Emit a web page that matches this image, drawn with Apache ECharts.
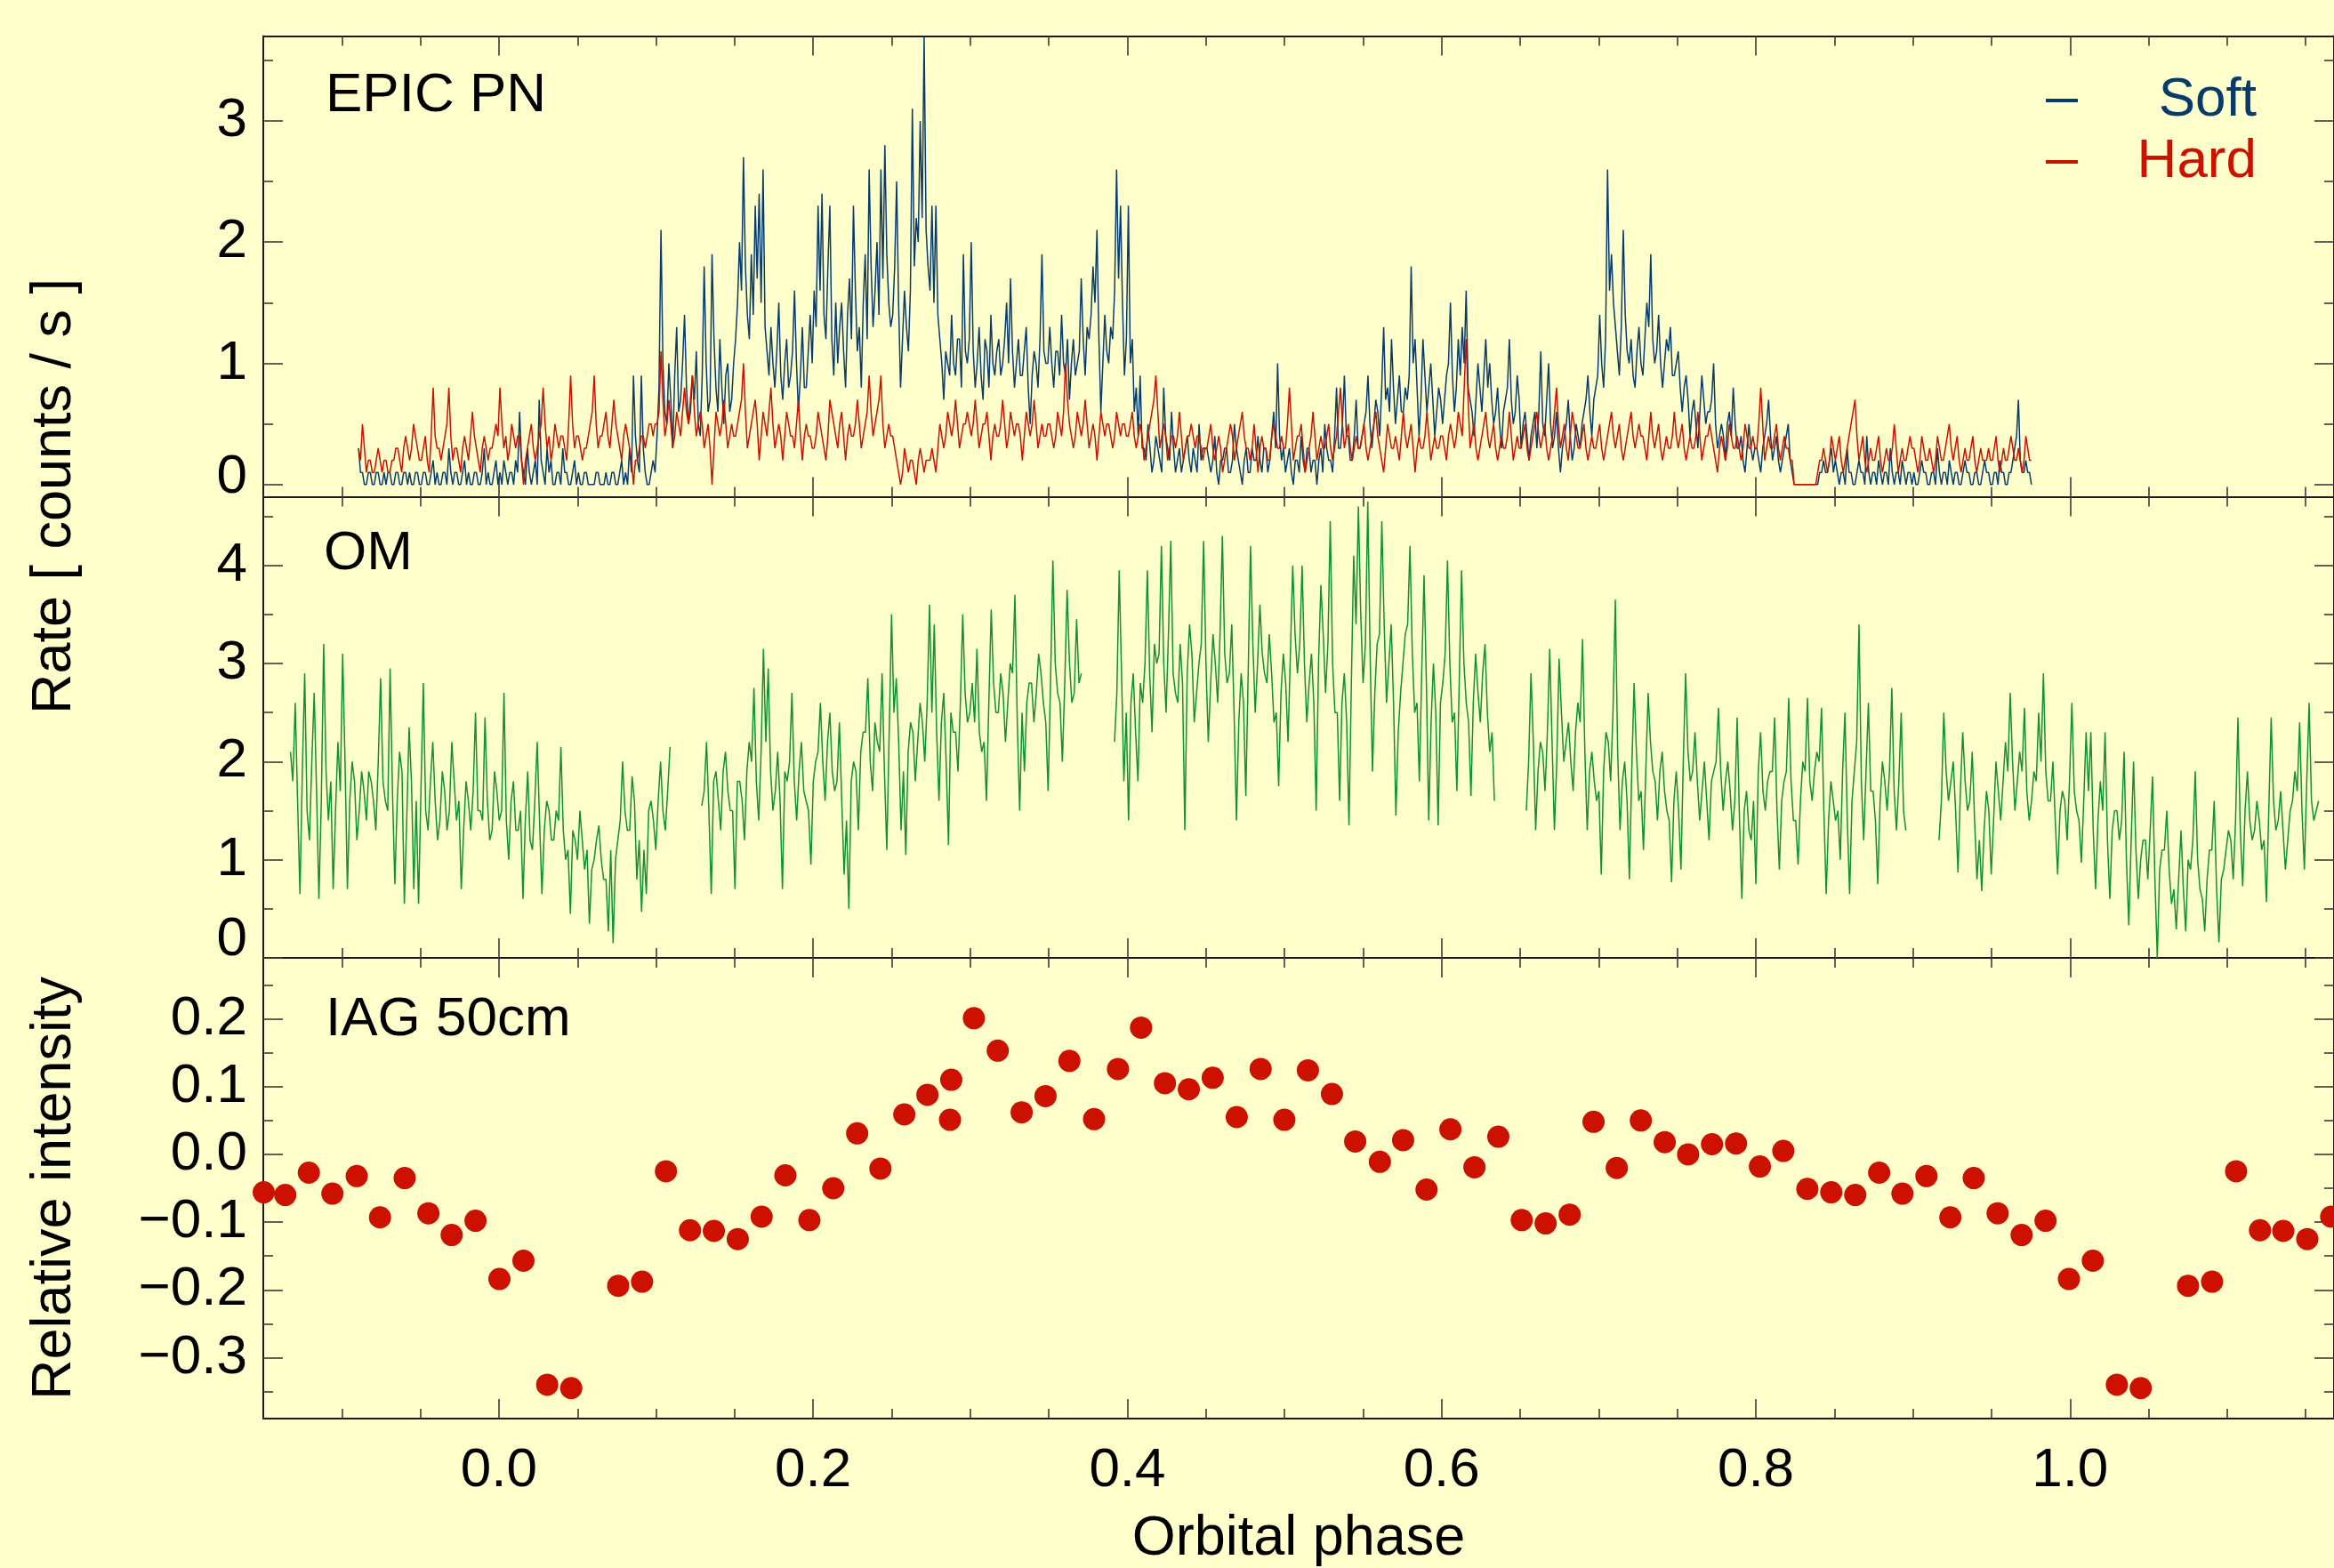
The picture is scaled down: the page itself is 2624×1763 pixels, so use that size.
<!DOCTYPE html>
<html><head><meta charset="utf-8">
<script src="https://cdn.jsdelivr.net/npm/echarts@6/dist/echarts.min.js"></script>
<style>html,body{margin:0;padding:0;background:#ffffcc;}#c{width:2624px;height:1763px;}</style>
</head><body><div id="c"></div>
<script>
// ---------- EPIC PN (phase rows, each row spans pnEdges[r]..pnEdges[r+1]) ----------
// each row: main readings; "core" rows: the in-between readings of the same bins
const pnEdges = [-0.09,-0.05,0,0.05,0.1,0.15,0.2,0.25,0.3,0.35,0.4,0.45,0.5,0.55,0.6,0.65,0.7,0.75,0.8,0.85,0.9,0.95,0.976];
const softRows = [
[0.3,0.1,0,0.1,0,0.1,0,0,0.1,0,0.1,0,0.1,0.1,0,0.1],
[0,0.1,0,0.2,0.1,0,0.1,0.3,0,0.1,0,0.2,0.1,0,0.1,0,0.3,0.1,0,0.2],
[0.1,0.2,0,0.1,0.2,0.6,0.1,0.3,0,0.2,0.7,0.1,0.3,0.2,0,0.1,0.3,0.1,0,0.2],
[0.1,0,0.1,0,0,0.1,0,0.1,0,0.1,0,0.2,0.1,0.3,0.9,0.2,0.9,0.1,0,0.2],
[0.4,2.1,0.6,1.0,0.3,1.3,0.7,1.4,0.5,0.9,1.1,0.4,1.8,0.6,1.9,0.8,1.2,0.5,1.0,0.7],
[1.2,2.0,2.7,1.4,1.9,2.3,2.4,2.6,1.1,1.3,0.8,1.5,0.7,1.2,0.9,1.6,0.6,1.3,0.8,1.4],
[1.6,2.3,2.4,1.2,2.3,0.9,1.0,1.5,0.8,1.7,2.3,1.1,0.8,1.9,2.6,1.3,2.0,2.6,2.8,1.5],
[1.4,2.5,0.8,1.6,1.1,3.1,2.2,3.0,3.7,1.8,2.3,2.3,1.2,0.7,1.0,1.4,0.9,1.2,1.9,1.0],
[2.0,0.8,1.3,0.7,1.1,1.4,0.9,1.2,1.0,1.5,1.7,0.8,1.2,0.9,1.3,0.5,1.1,0.8,1.9,1.0],
[1.3,0.8,1.1,1.4,0.9,0.7,1.2,1.0,1.7,0.9,1.2,1.8,2.1,0.6,1.4,1.0,1.2,2.6,2.3,0.9],
[2.3,1.2,0.8,0.9,0.3,0.5,0.1,0.4,0.2,0.8,0.3,0.6,0.1,0.3,0.2,0.4,0.1,0.2,0.5,0.3],
[0.3,0.1,0.4,0,0.2,0.3,0.1,0.5,0.2,0,0.3,0.1,0.2,0.4,0.1,0.3,0.2,0.6,1.0,0.2],
[0.1,0.3,0,0.2,0.4,0.1,0.3,0.2,0,0.3,0.5,0.2,0.1,0.8,0.3,0.9,0.4,0.2,0.7,0.3],
[0.5,0.9,0.3,0.7,0.4,1.3,0.8,1.2,0.5,0.9,0.6,0.7,1.8,1.2,0.4,1.2,0.6,1.0,0.4,0.8],
[0.5,0.9,1.5,0.6,1.2,1.3,1.6,0.7,0.4,1.0,0.6,1.2,1.0,0.5,0.8,0.3,0.7,1.2,0.5,0.9],
[0.3,0.6,0.2,0.5,0.3,1.1,0.4,1.0,0.3,0.6,0.1,0.4,0.7,0.2,0.5,0.3,0.6,0.9,0.4,0.8],
[1.4,0.8,2.6,1.9,1.3,0.9,2.1,1.1,1.2,0.8,1.3,0.9,1.5,1.9,1.0,1.4,0.8,1.2,1.3,0.9],
[1.1,0.6,0.9,0.4,0.7,0.3,0.9,0.5,0.6,1.0,0.3,0.5,0.2,0.6,0.8,0.3,0.4,0.1,0.5,0.2],
[0.3,0.1,0.4,0.7,0.2,0.4,0.1,0.3,0.5,0.1,0,0,0,0,0,0,0.1,0.2,0.1,0.3],
[0.2,0,0.1,0.3,0.1,0,0.2,0.1,0.4,0,0.1,0.2,0,0.1,0.3,0,0.1,0.2,0,0.1],
[0.1,0,0.2,0.1,0,0.1,0.3,0,0.1,0.2,0,0.1,0,0.2,0.1,0,0.1,0,0.2,0.1],
[0,0.1,0.2,0.1,0,0.1,0.3,0.7,0.1,0.2,0.1]
];
const softCoreRows = [
[0.1,0,0.1,0,0.1,0,0.1,0.1,0,0.1,0,0.1,0,0,0.1,0],
[0.1,0,0.1,0,0,0.1,0,0.1,0.1,0,0.1,0,0,0.1,0,0.1,0,0,0.1,0],
[0,0.1,0.1,0,0.1,0.2,0,0.1,0.1,0,0.2,0,0.1,0,0.1,0,0.1,0,0.1,0],
[0,0.1,0,0,0.1,0,0,0,0.1,0,0.1,0,0,0.1,0.4,0.1,0.3,0,0.1,0.1],
[0.8,1.0,0.5,0.7,0.9,0.6,1.0,0.8,0.6,0.7,0.5,0.9,1.0,0.7,1.2,0.6,0.8,0.9,0.6,1.0],
[1.5,1.6,1.8,1.2,1.4,1.7,1.5,1.3,0.9,1.0,1.1,0.9,1.0,0.8,1.1,1.0,0.9,0.8,1.1,1.0],
[1.3,1.6,1.4,1.8,1.2,1.5,1.3,1.1,1.4,1.2,1.6,1.3,1.5,1.2,1.8,1.6,1.4,1.7,1.9,1.3],
[1.8,1.5,1.2,1.3,1.6,1.8,2.0,2.2,2.1,1.6,1.5,1.4,1.0,1.1,0.9,1.0,1.2,0.8,1.1,1.2],
[1.1,1.0,0.9,1.2,0.8,1.0,1.1,0.9,1.2,1.0,1.1,1.0,0.9,1.1,0.8,0.9,1.0,1.2,1.1,1.0],
[1.0,1.1,0.9,1.0,1.2,1.0,0.9,1.1,1.2,1.3,1.4,1.5,1.2,1.0,1.1,1.3,1.6,1.7,1.5,1.2],
[1.0,0.6,0.4,0.3,0.2,0.3,0.2,0.3,0.1,0.4,0.2,0.3,0.2,0.1,0.3,0.2,0.3,0.1,0.2,0.3],
[0.2,0.2,0.1,0.2,0.3,0.1,0.2,0.3,0.1,0.2,0.1,0.3,0.2,0.2,0.3,0.1,0.4,0.3,0.4,0.3],
[0.2,0.1,0.2,0.1,0.2,0.3,0.1,0.2,0.2,0.1,0.3,0.2,0.4,0.3,0.5,0.4,0.2,0.4,0.3,0.4],
[0.6,0.5,0.5,0.6,0.8,0.7,0.6,0.8,0.7,0.6,0.8,0.9,1.0,0.8,0.7,0.9,0.8,0.7,0.6,0.7],
[0.7,1.0,0.9,0.8,0.9,1.0,0.8,0.6,0.7,0.8,0.9,0.8,0.7,0.6,0.5,0.6,0.8,0.7,0.6,0.7],
[0.5,0.4,0.4,0.6,0.6,0.5,0.7,0.5,0.4,0.3,0.3,0.5,0.4,0.3,0.4,0.5,0.7,0.6,0.7,0.9],
[1.0,1.2,1.6,1.5,1.1,1.3,1.4,1.0,0.9,1.1,1.0,1.2,1.3,1.2,1.1,1.0,1.0,1.1,0.9,1.0],
[0.8,0.8,0.7,0.6,0.5,0.6,0.7,0.6,0.7,0.5,0.4,0.4,0.5,0.4,0.5,0.3,0.2,0.3,0.3,0.3],
[0.2,0.3,0.5,0.4,0.3,0.2,0.2,0.4,0.2,0,0,0,0,0,0,0,0.1,0.1,0.2,0.1],
[0.1,0.1,0,0.1,0,0.1,0.1,0,0.1,0.1,0,0.1,0.1,0,0.1,0.1,0,0.1,0.1,0],
[0,0.1,0.1,0,0.1,0,0.1,0.1,0,0.1,0.1,0,0.1,0.1,0,0.1,0,0.1,0.1,0],
[0.1,0,0.1,0,0.1,0.2,0.4,0.2,0.1,0.1,0]
];
const hardRows = [
[0.3,0.5,0.1,0.2,0.1,0.3,0.1,0.2,0.1,0.2,0.3,0.1,0.4,0.2,0.5,0.3],
[0.2,0.4,0.1,0.8,0.3,0.2,0.4,0.8,0.2,0.3,0.1,0.4,0.2,0.6,0.3,0.1,0.4,0.2,0.3,0.5],
[0.8,0.3,0.2,0.5,0.3,0.4,0,0.3,0.5,0.2,0.4,0.8,0.3,0.2,0.5,0.3,0.4,0.2,0.9,0.3],
[0.4,0.2,0.3,0.5,0.9,0.3,0.4,0.6,0.3,0.7,0.4,0.2,0.5,0.3,0,0.2,0.4,0.3,0.5,0.4],
[0.5,1.1,0.4,0.7,0.3,0.6,0.4,0.8,0.5,0.9,0.4,0.6,0.3,0.5,0,0.6,0.4,0.7,0.3,0.5],
[0.4,0.6,1.0,0.3,0.5,0.7,0.2,0.6,0.4,0.8,0.3,0.5,0.2,0.6,0.4,0.3,0.7,0.2,0.5,0.4],
[0.3,0.6,0.4,0.2,0.7,0.5,0.3,0.6,0.2,0.5,0.4,0.7,0.3,0.5,0.9,0.4,0.6,0.9,0.3,0.5],
[0.4,0.2,0,0.3,0.1,0.2,0,0.3,0.1,0.2,0.3,0.1,0.5,0.3,0.6,0.4,0.7,0.3,0.5,0.6],
[0.4,0.7,0.3,0.5,0.6,0.2,0.5,0.4,0.7,0.3,0.6,0.4,0.5,0.2,0.6,0.4,0.7,0.3,0.5,0.4],
[0.5,0.3,0.6,0.4,1.0,0.5,0.3,0.6,0.4,0.7,0.3,0.5,0.2,0.6,0.4,0.5,0.3,0.6,0.4,0.5],
[0.4,0.6,0.3,0.5,0.2,0.4,0.6,0.9,0.3,0.5,0.2,0.4,0.3,0.6,0.2,0.4,0.5,0.3,0.4,0.2],
[0.3,0.5,0.2,0.4,0.1,0.3,0.5,0.2,0.4,0.6,0.3,0.2,0.5,0.1,0.4,0.3,0.2,0.5,0.3,0.4],
[0.3,0.8,0.2,0.4,0.5,0.1,0.3,0.6,0.2,0.4,0.3,0.5,0.2,0.4,0.8,0.3,0.5,0.2,0.4,0.3],
[0.5,0.2,0.4,0.6,0.3,0.1,0.5,0.3,0.4,0.2,0.6,0.3,0.5,0.1,0.4,0.3,0.6,0.2,0.4,0.3],
[0.4,0.2,0.5,0.3,0.6,0.4,1.2,0.3,0.5,0.2,0.4,0.6,0.3,0.5,0.2,0.4,0.3,0.6,0.2,0.4],
[0.3,0.5,0.2,0.4,0.6,0.3,0.5,0.2,0.4,0.8,0.3,0.5,0.2,0.6,0.4,0.3,0.5,0.2,0.4,0.3],
[0.5,0.2,0.4,0.6,0.3,0.5,0.2,0.4,0.6,0.3,0.5,0.4,0.2,0.6,0.3,0.5,0.2,0.4,0.3,0.6],
[0.3,0.5,0.2,0.4,0.3,0.6,0.2,0.4,0.5,0.3,0.1,0.4,0.2,0.5,0.3,0.4,0.2,0.5,0.3,0.4],
[0.3,0.8,0.2,0.4,0.3,0.5,0.2,0.4,0.3,0.2,0,0,0,0,0,0,0.2,0.3,0.1,0.4],
[0.2,0.4,0.1,0.3,0.5,0.7,0.2,0.4,0.1,0.3,0.2,0.4,0.1,0.3,0.2,0.5,0.1,0.3,0.2,0.4],
[0.3,0.1,0.4,0.2,0.3,0.1,0.4,0.2,0.3,0.5,0.2,0.4,0.1,0.3,0.2,0.4,0.1,0.3,0.2,0.3],
[0.2,0.4,0.1,0.3,0.2,0.4,0.2,0.3,0.1,0.4,0.2]
];
const hardCoreRows = [
[0.2,0.3,0.2,0.1,0.2,0.2,0.2,0.1,0.2,0.3,0.2,0.3,0.3,0.3,0.4,0.2],
[0.3,0.2,0.4,0.4,0.3,0.3,0.5,0.4,0.3,0.2,0.3,0.3,0.4,0.4,0.2,0.3,0.3,0.3,0.4,0.4],
[0.5,0.4,0.3,0.4,0.4,0.2,0.2,0.4,0.3,0.3,0.5,0.5,0.4,0.3,0.4,0.4,0.3,0.5,0.5,0.4],
[0.3,0.3,0.4,0.6,0.5,0.4,0.5,0.4,0.5,0.5,0.3,0.4,0.4,0.2,0.2,0.3,0.4,0.4,0.5,0.5],
[0.6,0.7,0.5,0.5,0.4,0.5,0.6,0.6,0.7,0.6,0.5,0.5,0.4,0.3,0.3,0.5,0.5,0.5,0.4,0.4],
[0.5,0.7,0.6,0.4,0.6,0.5,0.4,0.5,0.6,0.5,0.4,0.4,0.4,0.5,0.4,0.5,0.4,0.4,0.4,0.3],
[0.4,0.5,0.3,0.4,0.6,0.4,0.5,0.4,0.4,0.4,0.5,0.5,0.4,0.6,0.6,0.5,0.7,0.5,0.4,0.4],
[0.3,0.1,0.1,0.2,0.2,0.1,0.2,0.2,0.2,0.2,0.2,0.3,0.4,0.4,0.5,0.5,0.5,0.4,0.5,0.5],
[0.5,0.5,0.4,0.5,0.4,0.4,0.4,0.5,0.5,0.4,0.5,0.5,0.4,0.4,0.5,0.5,0.5,0.4,0.4,0.5],
[0.4,0.4,0.5,0.6,0.7,0.4,0.4,0.5,0.5,0.5,0.4,0.4,0.4,0.5,0.5,0.4,0.4,0.5,0.5,0.4],
[0.5,0.4,0.4,0.4,0.3,0.5,0.7,0.6,0.4,0.4,0.3,0.4,0.4,0.4,0.3,0.4,0.4,0.4,0.3,0.3],
[0.4,0.3,0.3,0.3,0.2,0.4,0.4,0.3,0.5,0.4,0.3,0.3,0.3,0.3,0.3,0.2,0.4,0.4,0.3,0.3],
[0.5,0.5,0.3,0.4,0.3,0.2,0.4,0.4,0.3,0.3,0.4,0.3,0.3,0.6,0.5,0.4,0.3,0.3,0.3,0.4],
[0.3,0.3,0.5,0.4,0.2,0.3,0.4,0.3,0.3,0.4,0.4,0.4,0.3,0.3,0.3,0.4,0.4,0.3,0.3,0.4],
[0.3,0.4,0.4,0.4,0.5,0.8,0.7,0.4,0.3,0.3,0.5,0.4,0.4,0.3,0.3,0.3,0.4,0.4,0.3,0.3],
[0.4,0.3,0.3,0.5,0.4,0.4,0.3,0.3,0.6,0.5,0.4,0.3,0.4,0.5,0.3,0.4,0.3,0.3,0.3,0.4],
[0.3,0.3,0.5,0.4,0.4,0.3,0.3,0.5,0.4,0.4,0.4,0.3,0.4,0.4,0.4,0.3,0.3,0.3,0.4,0.4],
[0.4,0.3,0.3,0.3,0.4,0.4,0.3,0.4,0.4,0.2,0.3,0.3,0.3,0.4,0.3,0.3,0.3,0.4,0.3,0.3],
[0.5,0.5,0.3,0.3,0.4,0.3,0.3,0.3,0.2,0,0,0,0,0,0,0.1,0.2,0.2,0.2,0.3],
[0.3,0.2,0.2,0.4,0.6,0.4,0.3,0.2,0.2,0.2,0.3,0.2,0.2,0.2,0.3,0.3,0.2,0.2,0.3,0.3],
[0.2,0.2,0.3,0.2,0.2,0.2,0.3,0.2,0.4,0.3,0.3,0.2,0.2,0.2,0.3,0.2,0.2,0.2,0.2,0.2],
[0.3,0.2,0.2,0.2,0.3,0.3,0.2,0.2,0.2,0.3,0.2]
];

// ---------- OM (five observation segments) ----------
const omStart = [-0.1327, 0.1291, 0.3918, 0.6539, 0.9166];
const omEnd   = [ 0.1089, 0.3707, 0.6336, 0.8955, 1.1582];
const omSeg1 = [2.1,2.6,0.65,2.9,1.2,2.7,0.6,3.2,1.4,0.7,2.2,3.1,0.7,2.0,1.2,1.9,1.4,1.8,1.3,2.85,1.6,2.95,0.75,2.1,0.55,2.35,0.7,0.55,2.8,1.3,2.2,1.2,1.9,1.3,2.2,1.4,0.7,1.8,1.3,2.5,1.5,2.45,1.2,1.9,1.4,2.7,1.0,1.8,1.3,0.6,1.9,1.1,2.2,0.65,1.6,1.2,1.5,2.15,1.0,0.45,1.2,1.5,0.9,0.35,1.0,1.35,0.8,0.27,0.15,1.2,2.0,1.3,1.85,0.8,0.47,0.65,1.6,1.1,2.0,1.3,2.15];
const omSeg2 = [1.55,2.2,0.65,1.9,1.3,2.1,1.5,0.7,1.8,1.2,2.2,2.75,1.4,3.15,2.95,1.5,2.1,0.7,1.8,2.7,1.4,2.2,1.6,0.95,2.0,2.6,1.6,2.5,1.7,2.4,0.85,0.5,2.0,1.3,2.3,2.85,1.7,2.2,2.9,1.1,3.5,2.85,1.3,1.05,2.4,1.8,2.6,2.0,3.6,3.4,1.6,2.7,1.15,2.3,1.9,3.5,2.4,2.8,3.15,2.1,1.6,3.55,2.5,2.9,2.2,3.0,3.7,1.5,1.9,2.8,2.4,3.1,2.6,1.7,4.05,2.7,2.0,3.75,2.6,3.45,2.9];
const omSeg3 = [2.2,3.95,1.8,1.4,2.9,1.8,2.6,3.95,2.3,3.0,4.2,2.5,4.25,2.7,3.2,1.3,3.4,2.4,3.0,4.25,2.2,3.3,2.6,4.3,2.8,3.4,1.4,2.9,1.65,4.2,2.5,3.6,2.9,3.3,2.4,1.75,3.1,2.2,4.0,2.9,4.0,2.4,3.1,1.5,3.8,2.7,4.45,2.5,1.6,2.9,1.35,4.1,4.6,2.8,4.65,1.9,3.2,4.45,2.6,3.4,1.45,2.7,3.3,4.2,2.5,1.8,3.9,1.4,3.0,1.35,2.8,4.05,2.4,1.7,3.95,2.6,1.65,3.1,2.4,3.2,2.1,1.6];
const omSeg4 = [1.5,2.9,1.3,2.2,1.7,3.15,1.3,3.05,2.0,2.4,1.7,2.6,3.25,1.3,2.1,1.6,0.85,2.3,1.8,3.65,1.3,2.0,0.8,2.8,1.6,1.1,2.7,1.9,1.4,2.1,1.5,0.77,1.9,0.9,2.9,1.8,2.3,1.4,2.0,1.2,1.9,2.55,1.5,2.0,1.3,2.45,0.6,1.7,1.2,0.75,2.3,1.5,1.9,2.45,0.9,1.8,2.65,1.4,0.95,2.0,2.65,1.6,2.1,2.55,0.65,1.8,1.4,1.0,2.5,0.65,1.9,3.4,1.2,2.6,1.7,0.75,2.0,1.5,2.75,1.3,2.5,1.3];
const omSeg5 = [1.2,2.5,1.6,2.0,0.87,2.3,1.5,2.1,0.8,0.68,1.7,0.85,2.0,1.4,2.2,2.7,1.5,2.1,2.55,1.4,1.9,2.5,2.9,1.6,2.0,0.85,1.7,1.2,2.6,1.5,0.97,2.3,2.3,0.7,1.8,2.3,0.6,1.5,1.2,2.1,0.33,2.0,0.6,1.2,0.8,1.85,0.0,1.1,1.5,0.55,0.29,1.3,0.27,0.9,1.9,0.7,0.27,1.1,1.6,0.16,0.9,1.3,0.8,2.45,0.73,1.9,1.2,1.6,1.1,0.57,2.45,1.3,1.7,0.9,1.5,1.9,2.4,0.9,2.6,1.4,1.6];
// in-between (core band) readings of each OM segment
const omCore1 = [1.8,1.6,1.9,1.5,2.0,1.7,1.6,1.9,1.8,1.5,1.7,2.0,1.6,1.8,1.5,1.7,1.9,1.6,2.0,1.8,1.5,1.7,1.6,1.9,1.4,1.8,1.6,1.7,1.5,1.8,1.6,1.4,1.7,1.5,1.8,1.6,1.3,1.6,1.7,1.5,1.4,1.6,1.3,1.7,1.5,1.4,1.6,1.3,1.5,1.4,1.2,1.6,1.4,1.3,1.5,1.2,1.4,1.3,1.1,1.3,1.0,1.2,1.1,0.9,1.2,1.0,0.8,1.1,1.0,1.4,1.5,1.3,1.6,1.2,1.1,1.5,1.4,1.6,1.5,1.7];
const omCore2 = [1.7,1.5,1.8,1.6,1.9,1.7,1.5,1.8,1.6,1.9,2.0,1.8,2.1,2.2,1.9,1.7,1.6,1.9,2.0,1.8,1.9,1.7,1.5,1.8,2.1,2.0,2.2,1.9,1.8,1.6,1.4,1.8,1.9,2.1,2.3,2.0,2.4,2.1,1.9,2.3,2.5,2.2,1.9,2.1,2.3,2.2,2.4,2.6,2.5,2.3,2.4,2.0,2.5,2.3,2.6,2.7,2.5,2.4,2.3,2.2,2.6,2.8,2.5,2.7,2.6,2.9,2.4,2.5,2.6,2.8,2.7,2.9,2.4,2.8,3.0,2.6,2.8,3.0,2.7,2.8];
const omCore3 = [2.7,2.9,2.5,2.6,2.3,2.8,3.0,2.9,3.2,3.1,3.0,3.3,2.9,2.6,2.8,2.9,3.1,2.7,3.2,3.0,2.8,3.0,3.3,3.1,2.9,2.5,2.4,2.6,2.9,3.2,3.0,3.1,2.8,2.9,2.5,2.7,2.8,3.1,3.3,3.2,3.0,2.8,2.6,3.0,3.3,3.2,3.0,2.5,2.6,2.4,2.8,3.4,3.5,3.2,3.1,2.7,3.3,3.4,3.0,2.6,2.3,3.0,3.4,3.1,2.6,2.9,2.8,2.4,2.5,2.6,3.1,3.0,2.5,2.8,3.0,2.4,2.6,2.7,2.9,2.5,2.3];
const omCore4 = [2.0,2.2,1.9,2.1,2.3,2.2,2.0,2.5,2.2,2.0,2.3,2.4,2.1,1.9,1.8,1.7,1.9,2.2,2.5,2.1,1.8,1.6,1.9,2.1,1.7,1.9,2.2,1.8,1.9,1.7,1.4,1.6,1.5,2.0,2.1,1.9,1.8,1.7,1.6,1.8,2.0,1.9,1.8,1.7,1.6,1.4,1.5,1.3,1.6,1.9,1.7,1.8,1.9,1.5,1.6,1.9,1.8,1.4,1.6,1.9,1.8,1.9,2.0,1.5,1.4,1.6,1.5,1.9,1.4,1.6,2.2,1.8,1.9,1.7,1.4,1.6,1.8,1.9,1.7,1.8,1.5];
const omCore5 = [1.6,1.9,1.8,1.5,1.7,1.8,1.6,1.4,1.2,1.3,1.5,1.4,1.7,1.8,1.9,2.0,1.8,1.9,1.7,1.6,1.8,2.0,1.9,1.6,1.4,1.5,1.6,1.8,1.7,1.4,1.6,1.7,1.3,1.4,1.5,1.2,1.3,1.5,1.4,1.0,1.2,1.1,1.0,1.2,1.3,0.8,0.9,1.1,0.9,0.7,0.8,0.7,1.0,1.2,1.0,0.6,0.8,1.1,0.7,0.8,1.1,1.2,1.4,1.3,1.5,1.4,1.3,1.4,1.2,1.5,1.6,1.4,1.3,1.2,1.6,1.7,1.5,1.8,1.6,1.5];

// ---------- IAG 50cm ----------
const iagPhase = [-0.1497,-0.136,-0.121,-0.106,-0.0905,-0.0757,-0.060,-0.0449,-0.0301,-0.0149,
0.0003,0.0156,0.0307,0.046,0.0759,0.0911,0.1063,0.1216,0.1368,0.152,0.1672,0.1823,0.1976,0.2128,0.228,0.2428,0.258,0.2727,0.2879,0.2871,
0.3023,0.3175,0.3327,0.3479,0.3631,0.3788,0.394,0.4087,0.4239,0.4391,0.4543,0.4696,0.4848,0.4999,0.5149,0.5302,0.545,0.5607,0.5755,0.5904,
0.6056,0.6209,0.6361,0.651,0.6662,0.6815,0.6967,0.7115,0.7268,0.742,0.7569,0.7721,0.7874,0.8026,0.8175,0.8328,0.848,0.8633,0.8785,0.8933,
0.9086,0.9238,0.9387,0.9539,0.9692,0.9844,0.9993,1.0145,1.0298,1.045,1.0751,1.0904,1.1057,1.1209,1.1357,1.151,1.1662];
const iagValue = [-0.056,-0.060,-0.027,-0.058,-0.032,-0.093,-0.035,-0.087,-0.119,-0.098,
-0.184,-0.157,-0.340,-0.345,-0.194,-0.188,-0.025,-0.112,-0.113,-0.125,-0.092,-0.031,-0.097,-0.050,0.031,-0.021,0.059,0.088,0.110,0.051,
0.201,0.153,0.062,0.086,0.138,0.052,0.126,0.187,0.105,0.096,0.113,0.055,0.126,0.051,0.124,0.089,0.019,-0.011,0.021,-0.052,
0.037,-0.019,0.026,-0.097,-0.102,-0.089,0.048,-0.020,0.050,0.018,0.000,0.015,0.016,-0.018,0.005,-0.051,-0.056,-0.060,-0.027,-0.058,
-0.032,-0.093,-0.035,-0.087,-0.119,-0.098,-0.184,-0.157,-0.340,-0.345,-0.194,-0.188,-0.025,-0.112,-0.113,-0.125,-0.092];

// ---------- ticks ----------
const xMajor = [0,0.2,0.4,0.6,0.8,1.0];
const xMinor = [-0.1,-0.05,0.05,0.1,0.15,0.25,0.3,0.35,0.45,0.5,0.55,0.65,0.7,0.75,0.85,0.9,0.95,1.05,1.1,1.15];
const pnMajor = [0,1,2,3], pnMinor = [0.5,1.5,2.5,3.5];
const omMajor = [0,1,2,3,4], omMinor = [0.5,1.5,2.5,3.5,4.5];
const iagMajor = [-0.3,-0.2,-0.1,0,0.1,0.2], iagMinor = [-0.35,-0.25,-0.15,-0.05,0.05,0.15,0.25];

const FONT = '"Liberation Sans", Arial, Helvetica, sans-serif';
const SOFT = '#073b6c', HARD = '#cc1100', GREEN = '#0f922f', DOT = '#cc1100';
const X_MIN = -0.15, X_MAX = 1.168;

function interleave(a, c){
  const out = [];
  a.forEach((v, i) => { out.push(v); if (i < c.length) out.push(c[i]); });
  return out;
}
function buildRows(rows, coreRows, edges){
  const out = [];
  rows.forEach((row, r) => {
    const vals = interleave(row, coreRows[r]);
    const a = edges[r], b = edges[r+1], w = (b - a) / vals.length;
    vals.forEach((v, i) => out.push([a + (i + 0.5) * w, v]));
  });
  return out;
}
const softData = buildRows(softRows, softCoreRows, pnEdges);
const hardData = buildRows(hardRows, hardCoreRows, pnEdges);
const omSegs = [omSeg1, omSeg2, omSeg3, omSeg4, omSeg5];
const omCores = [omCore1, omCore2, omCore3, omCore4, omCore5];
const omData = [];
omSegs.forEach((seg, s) => {
  const vals = interleave(seg, omCores[s].slice(0, seg.length - 1));
  const a = omStart[s], b = omEnd[s];
  vals.forEach((v, i) => omData.push([a + (b - a) * i / (vals.length - 1), v]));
  if (s < omSegs.length - 1) omData.push([(b + omStart[s+1]) / 2, null]);
});
const iagData = iagPhase.map((p, i) => [p, iagValue[i]]);

const grids = [
  {left:296, right:0, top:40.5, height:518},
  {left:296, right:0, top:558.5, height:518.5},
  {left:296, right:0, top:1077, height:518.5}
];
const lineSt = {color:'#1a1a1a', width:2};
const tickSt = {color:'#3a3a3a', width:1.6};
const xAxes = [], yAxes = [];
function addX(g, last){
  const base = {type:'value', gridIndex:g, min:X_MIN, max:X_MAX, splitLine:{show:false}};
  xAxes.push(Object.assign({}, base, {position:'bottom',
    axisLine:{show:true, onZero:false, lineStyle:lineSt},
    axisTick:{show:true, inside:true, length:22, customValues:xMajor, lineStyle:tickSt},
    axisLabel:{show:last, customValues:xMajor, margin:28, fontSize:62, fontFamily:FONT, color:'#000',
      formatter: v => v.toFixed(1)},
    name: last ? 'Orbital phase' : '', nameLocation:'middle', nameGap:104,
    nameTextStyle:{fontSize:63, fontFamily:FONT, color:'#000'}
  }));
  xAxes.push(Object.assign({}, base, {position:'bottom', axisLine:{show:false, onZero:false},
    axisTick:{show:true, inside:true, length:11, customValues:xMinor, lineStyle:tickSt}, axisLabel:{show:false}}));
  xAxes.push(Object.assign({}, base, {position:'top', axisLine:{show:true, onZero:false, lineStyle:lineSt},
    axisTick:{show:true, inside:true, length:22, customValues:xMajor, lineStyle:tickSt}, axisLabel:{show:false}}));
  xAxes.push(Object.assign({}, base, {position:'top', axisLine:{show:false, onZero:false},
    axisTick:{show:true, inside:true, length:11, customValues:xMinor, lineStyle:tickSt}, axisLabel:{show:false}}));
}
function addY(g, min, max, major, minor, fmt, zeroPad){
  const base = {type:'value', gridIndex:g, min:min, max:max, splitLine:{show:false}};
  yAxes.push(Object.assign({}, base, {position:'left',
    axisLine:{show:true, onZero:false, lineStyle:lineSt},
    axisTick:{show:true, inside:true, length:22, customValues:major, lineStyle:tickSt},
    axisLabel:{show:true, customValues:major, margin:18, fontSize:62, fontFamily:FONT, color:'#000',
      formatter: v => (Math.abs(v) < 1e-9 && zeroPad) ? '{z|' + fmt(0) + '}' : fmt(v),
      rich:{z:{fontSize:62, fontFamily:FONT, color:'#000', padding:[0,0,zeroPad||0,0]}}}
  }));
  yAxes.push(Object.assign({}, base, {position:'left', axisLine:{show:false, onZero:false},
    axisTick:{show:true, inside:true, length:11, customValues:minor, lineStyle:tickSt}, axisLabel:{show:false}}));
  yAxes.push(Object.assign({}, base, {position:'right', axisLine:{show:true, onZero:false, lineStyle:lineSt},
    axisTick:{show:true, inside:true, length:22, customValues:major, lineStyle:tickSt}, axisLabel:{show:false}}));
  yAxes.push(Object.assign({}, base, {position:'right', axisLine:{show:false, onZero:false},
    axisTick:{show:true, inside:true, length:11, customValues:minor, lineStyle:tickSt}, axisLabel:{show:false}}));
}
addX(0, false); addX(1, false); addX(2, true);
const intFmt = v => String(Math.round(v));
const decFmt = v => { const s = Math.abs(v).toFixed(1); return (v < -1e-9 ? '\u2212' : '') + s; };
addY(0, -0.1, 3.7, pnMajor, pnMinor, intFmt, 16);
addY(1, 0, 4.7, omMajor, omMinor, intFmt, 41);
addY(2, -0.39, 0.29, iagMajor, iagMinor, decFmt, 0);

const chart = echarts.init(document.getElementById('c'), null, {renderer:'canvas'});
chart.setOption({
  backgroundColor:'#ffffcc',
  animation:false,
  grid: grids,
  xAxis: xAxes,
  yAxis: yAxes,
  legend: {
    data:['Soft','Hard'], orient:'vertical', left:2295, top:77,
    itemWidth:36, itemHeight:4, itemGap:7, icon:'rect', selectedMode:false,
    formatter: n => n === 'Soft' ? '{s|Soft}' : '{h|Hard}',
    textStyle:{rich:{
      s:{color:SOFT, fontSize:62, fontFamily:FONT, width:196, align:'right', lineHeight:62},
      h:{color:HARD, fontSize:62, fontFamily:FONT, width:196, align:'right', lineHeight:62}
    }}
  },
  graphic: [
    {type:'text', x:366, y:108, style:{text:'EPIC PN', font:'62px ' + FONT, fill:'#000', verticalAlign:'middle'}},
    {type:'text', x:364, y:623, style:{text:'OM', font:'62px ' + FONT, fill:'#000', verticalAlign:'middle'}},
    {type:'text', x:366, y:1147, style:{text:'IAG 50cm', font:'62px ' + FONT, fill:'#000', verticalAlign:'middle'}},
    {type:'text', x:62, y:558, rotation:Math.PI/2, style:{text:'Rate [ counts / s ]', font:'63px ' + FONT, fill:'#000', align:'center', verticalAlign:'middle'}},
    {type:'text', x:62, y:1336, rotation:Math.PI/2, style:{text:'Relative intensity', font:'63px ' + FONT, fill:'#000', align:'center', verticalAlign:'middle'}}
  ],
  series: [
    {name:'Soft', type:'line', xAxisIndex:0, yAxisIndex:0, data:softData, symbol:'none', color:SOFT,
      lineStyle:{width:1.5, color:SOFT}, z:3},
    {name:'Hard', type:'line', xAxisIndex:0, yAxisIndex:0, data:hardData, symbol:'none', color:HARD,
      lineStyle:{width:1.5, color:HARD}, z:4},
    {name:'OM', type:'line', xAxisIndex:4, yAxisIndex:4, data:omData, symbol:'none', connectNulls:false, color:GREEN,
      lineStyle:{width:1.5, color:GREEN}, z:3},
    {name:'IAG 50cm', type:'scatter', xAxisIndex:8, yAxisIndex:8, data:iagData, symbol:'circle', symbolSize:25,
      itemStyle:{color:DOT, opacity:1}, z:3}
  ]
});
</script></body></html>
